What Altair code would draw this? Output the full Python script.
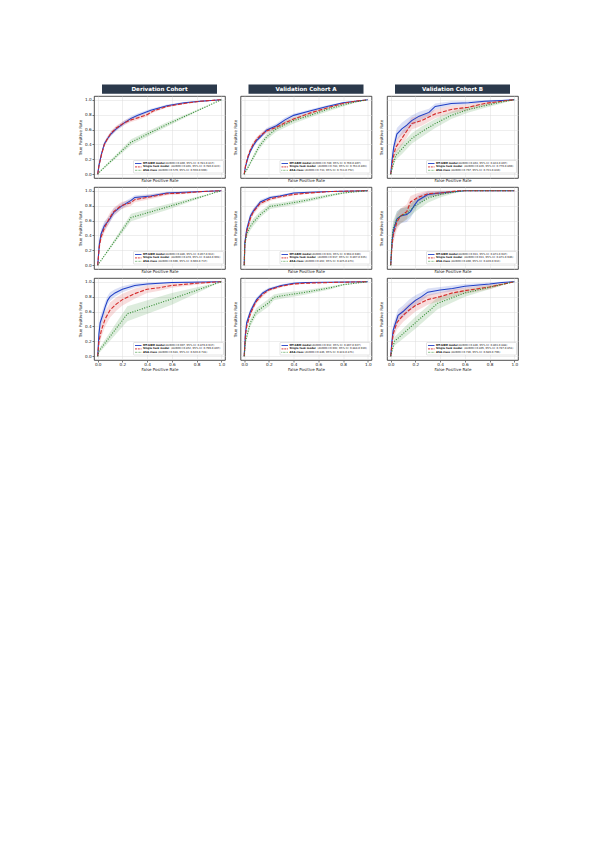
import altair as alt
import pandas as pd

COHORTS = ["Derivation Cohort", "Validation Cohort A", "Validation Cohort B"]
MODELS = ["MT-GBM model", "Single task model", "ASA class"]
TICKS = [0.0, 0.2, 0.4, 0.6, 0.8, 1.0]

# each point: (false positive rate, true positive rate, 95% CI half-width)
D1_MT = [(0, 0, 0), (0.01, 0.12, 0.02), (0.03, 0.27, 0.03), (0.054, 0.41, 0.03), (0.08, 0.48, 0.03),
         (0.107, 0.54, 0.03), (0.15, 0.61, 0.03), (0.215, 0.69, 0.03), (0.27, 0.75, 0.03),
         (0.32, 0.79, 0.025), (0.43, 0.86, 0.02), (0.56, 0.92, 0.015), (0.70, 0.96, 0.01),
         (0.83, 0.98, 0.01), (0.92, 0.99, 0.005), (1, 1, 0)]
D1_ST = [(0, 0, 0), (0.01, 0.11, 0.02), (0.03, 0.26, 0.03), (0.054, 0.40, 0.03), (0.08, 0.48, 0.03),
         (0.107, 0.55, 0.03), (0.15, 0.62, 0.03), (0.215, 0.69, 0.03), (0.27, 0.73, 0.03),
         (0.33, 0.76, 0.03), (0.40, 0.80, 0.025), (0.45, 0.85, 0.02), (0.56, 0.91, 0.015),
         (0.70, 0.95, 0.01), (0.83, 0.98, 0.01), (1, 1, 0)]
D1_ASA = [(0, 0, 0), (0.02, 0.04, 0.01), (0.27, 0.43, 0.04), (0.55, 0.66, 0.03), (1, 1, 0)]

A1_MT = [(0, 0, 0), (0.01, 0.10, 0.02), (0.03, 0.22, 0.03), (0.05, 0.31, 0.03), (0.075, 0.39, 0.03),
         (0.10, 0.45, 0.03), (0.13, 0.50, 0.03), (0.18, 0.59, 0.03), (0.26, 0.65, 0.03),
         (0.33, 0.73, 0.03), (0.40, 0.79, 0.025), (0.53, 0.85, 0.02), (0.67, 0.91, 0.015),
         (0.80, 0.96, 0.01), (0.90, 0.98, 0.005), (1, 1, 0)]
A1_ST = [(0, 0, 0), (0.01, 0.11, 0.02), (0.03, 0.24, 0.03), (0.05, 0.33, 0.03), (0.075, 0.41, 0.03),
         (0.10, 0.47, 0.03), (0.13, 0.52, 0.03), (0.18, 0.58, 0.03), (0.26, 0.63, 0.03),
         (0.33, 0.69, 0.03), (0.40, 0.74, 0.025), (0.53, 0.82, 0.02), (0.67, 0.89, 0.015),
         (0.80, 0.95, 0.01), (0.90, 0.98, 0.005), (1, 1, 0)]
A1_ASA = [(0, 0, 0), (0.03, 0.09, 0.02), (0.075, 0.23, 0.03), (0.12, 0.37, 0.04), (0.18, 0.50, 0.04),
          (0.26, 0.61, 0.04), (0.40, 0.72, 0.04), (0.55, 0.80, 0.03), (0.67, 0.87, 0.03),
          (0.80, 0.93, 0.02), (0.90, 0.97, 0.01), (1, 1, 0)]

B1_MT = [(0, 0, 0), (0.01, 0.18, 0.06), (0.024, 0.36, 0.08), (0.05, 0.54, 0.08), (0.09, 0.61, 0.08),
         (0.13, 0.66, 0.08), (0.17, 0.72, 0.07), (0.23, 0.78, 0.06), (0.31, 0.83, 0.05),
         (0.36, 0.91, 0.04), (0.49, 0.95, 0.03), (0.63, 0.96, 0.02), (0.76, 0.98, 0.015),
         (0.90, 0.99, 0.01), (1, 1, 0)]
B1_ST = [(0, 0, 0), (0.02, 0.22, 0.06), (0.04, 0.36, 0.08), (0.09, 0.48, 0.09), (0.13, 0.58, 0.09),
         (0.17, 0.68, 0.08), (0.25, 0.72, 0.07), (0.36, 0.81, 0.06), (0.49, 0.87, 0.05),
         (0.63, 0.90, 0.04), (0.76, 0.95, 0.03), (0.90, 0.98, 0.015), (1, 1, 0)]
B1_ASA = [(0, 0, 0), (0.04, 0.25, 0.06), (0.09, 0.34, 0.07), (0.17, 0.48, 0.07), (0.25, 0.57, 0.07),
          (0.36, 0.68, 0.06), (0.49, 0.79, 0.05), (0.63, 0.87, 0.04), (0.76, 0.92, 0.03),
          (0.90, 0.97, 0.02), (1, 1, 0)]

D2_MT = [(0, 0, 0), (0.013, 0.28, 0.06), (0.027, 0.42, 0.06), (0.054, 0.53, 0.06), (0.094, 0.61, 0.05),
         (0.13, 0.71, 0.05), (0.19, 0.79, 0.04), (0.27, 0.87, 0.035), (0.30, 0.91, 0.03),
         (0.43, 0.93, 0.025), (0.56, 0.97, 0.015), (0.70, 0.98, 0.01), (0.85, 0.99, 0.005), (1, 1, 0)]
D2_ST = [(0, 0, 0), (0.013, 0.25, 0.06), (0.027, 0.38, 0.06), (0.054, 0.50, 0.06), (0.094, 0.63, 0.06),
         (0.13, 0.72, 0.05), (0.19, 0.80, 0.05), (0.27, 0.84, 0.04), (0.30, 0.88, 0.035),
         (0.43, 0.92, 0.03), (0.56, 0.96, 0.02), (0.70, 0.97, 0.015), (0.85, 0.99, 0.01), (1, 1, 0)]
D2_ASA = [(0, 0, 0), (0.27, 0.64, 0.05), (0.56, 0.78, 0.04), (1, 1, 0)]

A2_MT = [(0, 0, 0), (0.005, 0.30, 0.05), (0.02, 0.48, 0.05), (0.05, 0.66, 0.04), (0.075, 0.73, 0.035),
         (0.13, 0.85, 0.03), (0.21, 0.91, 0.02), (0.29, 0.93, 0.02), (0.40, 0.97, 0.01),
         (0.53, 0.98, 0.01), (0.70, 0.99, 0.005), (1, 1, 0)]
A2_ST = [(0, 0, 0), (0.005, 0.28, 0.05), (0.02, 0.45, 0.05), (0.05, 0.63, 0.045), (0.075, 0.72, 0.04),
         (0.13, 0.83, 0.03), (0.21, 0.89, 0.025), (0.29, 0.92, 0.02), (0.40, 0.95, 0.015),
         (0.53, 0.97, 0.01), (0.70, 0.99, 0.005), (1, 1, 0)]
A2_ASA = [(0, 0, 0), (0.005, 0.28, 0.04), (0.02, 0.42, 0.05), (0.05, 0.52, 0.05), (0.075, 0.58, 0.05),
          (0.13, 0.68, 0.04), (0.21, 0.79, 0.035), (0.29, 0.81, 0.03), (0.40, 0.84, 0.03),
          (0.53, 0.88, 0.025), (0.67, 0.93, 0.02), (0.80, 0.97, 0.01), (1, 1, 0)]

B2_MT = [(0, 0, 0), (0.01, 0.30, 0.10), (0.02, 0.45, 0.10), (0.05, 0.62, 0.10), (0.08, 0.66, 0.10),
         (0.13, 0.68, 0.10), (0.16, 0.72, 0.09), (0.19, 0.80, 0.08), (0.22, 0.87, 0.07),
         (0.27, 0.92, 0.05), (0.30, 0.95, 0.04), (0.40, 0.97, 0.03), (0.53, 0.99, 0.01),
         (0.60, 1.0, 0), (1, 1, 0)]
B2_ST = [(0, 0, 0), (0.01, 0.25, 0.10), (0.02, 0.40, 0.10), (0.05, 0.58, 0.10), (0.08, 0.66, 0.10),
         (0.13, 0.72, 0.10), (0.16, 0.85, 0.08), (0.19, 0.88, 0.07), (0.22, 0.91, 0.06),
         (0.30, 0.96, 0.04), (0.40, 0.97, 0.03), (0.55, 1.0, 0), (1, 1, 0)]
B2_ASA = [(0, 0, 0), (0.01, 0.35, 0.10), (0.02, 0.50, 0.10), (0.05, 0.62, 0.10), (0.08, 0.66, 0.10),
          (0.13, 0.70, 0.09), (0.20, 0.80, 0.08), (0.30, 0.90, 0.06), (0.40, 0.95, 0.04),
          (0.50, 0.98, 0.02), (0.60, 1.0, 0), (1, 1, 0)]

D3_MT = [(0, 0, 0), (0.01, 0.30, 0.08), (0.02, 0.45, 0.08), (0.04, 0.55, 0.08), (0.06, 0.66, 0.07),
         (0.08, 0.75, 0.06), (0.10, 0.80, 0.06), (0.14, 0.85, 0.05), (0.20, 0.90, 0.04),
         (0.30, 0.95, 0.03), (0.40, 0.97, 0.02), (0.60, 0.99, 0.01), (1, 1, 0)]
D3_ST = [(0, 0, 0), (0.01, 0.20, 0.08), (0.03, 0.35, 0.09), (0.06, 0.50, 0.10), (0.10, 0.62, 0.10),
         (0.15, 0.70, 0.09), (0.20, 0.76, 0.08), (0.30, 0.84, 0.07), (0.40, 0.90, 0.05),
         (0.50, 0.92, 0.04), (0.60, 0.95, 0.03), (0.80, 0.98, 0.02), (1, 1, 0)]
D3_ASA = [(0, 0, 0), (0.01, 0.07, 0.03), (0.24, 0.57, 0.10), (0.60, 0.77, 0.08), (1, 1, 0)]

A3_MT = [(0, 0, 0), (0.01, 0.30, 0.04), (0.02, 0.45, 0.04), (0.05, 0.60, 0.04), (0.08, 0.70, 0.035),
         (0.10, 0.76, 0.03), (0.15, 0.85, 0.025), (0.20, 0.90, 0.02), (0.30, 0.95, 0.015),
         (0.40, 0.98, 0.01), (0.50, 0.99, 0.005), (1, 1, 0)]
A3_ST = [(0, 0, 0), (0.01, 0.28, 0.04), (0.02, 0.40, 0.04), (0.05, 0.57, 0.04), (0.08, 0.68, 0.035),
         (0.10, 0.74, 0.03), (0.15, 0.83, 0.03), (0.20, 0.89, 0.02), (0.30, 0.94, 0.015),
         (0.40, 0.97, 0.01), (0.50, 0.98, 0.01), (0.70, 0.99, 0.005), (1, 1, 0)]
A3_ASA = [(0, 0, 0), (0.01, 0.20, 0.04), (0.05, 0.45, 0.05), (0.10, 0.60, 0.05), (0.20, 0.72, 0.05),
          (0.24, 0.79, 0.04), (0.30, 0.81, 0.04), (0.50, 0.86, 0.03), (0.70, 0.92, 0.02),
          (0.80, 0.96, 0.01), (1, 1, 0)]

B3_MT = [(0, 0, 0), (0.01, 0.20, 0.06), (0.02, 0.35, 0.08), (0.04, 0.45, 0.08), (0.06, 0.55, 0.08),
         (0.10, 0.60, 0.08), (0.15, 0.68, 0.08), (0.20, 0.75, 0.07), (0.25, 0.80, 0.06),
         (0.30, 0.86, 0.05), (0.40, 0.89, 0.04), (0.50, 0.91, 0.04), (0.60, 0.94, 0.03),
         (0.80, 0.97, 0.02), (0.90, 0.99, 0.01), (1, 1, 0)]
B3_ST = [(0, 0, 0), (0.02, 0.30, 0.08), (0.05, 0.45, 0.09), (0.10, 0.55, 0.09), (0.15, 0.62, 0.09),
         (0.20, 0.68, 0.08), (0.30, 0.76, 0.07), (0.40, 0.80, 0.06), (0.50, 0.85, 0.05),
         (0.60, 0.88, 0.04), (0.80, 0.93, 0.03), (1, 1, 0)]
B3_ASA = [(0, 0, 0), (0.03, 0.20, 0.06), (0.20, 0.45, 0.08), (0.38, 0.71, 0.08), (0.60, 0.85, 0.05),
          (1, 1, 0)]

LEG_D1 = ["(AUROC=0.800, 95% CI: 0.783-0.817)", "(AUROC=0.801, 95% CI: 0.780-0.822)",
          "(AUROC=0.579, 95% CI: 0.559-0.600)"]
LEG_A1 = ["(AUROC=0.789, 95% CI: 0.769-0.807)", "(AUROC=0.783, 95% CI: 0.763-0.803)",
          "(AUROC=0.733, 95% CI: 0.713-0.752)"]
LEG_B1 = ["(AUROC=0.863, 95% CI: 0.824-0.897)", "(AUROC=0.826, 95% CI: 0.779-0.869)",
          "(AUROC=0.767, 95% CI: 0.723-0.810)"]
LEG_D2 = ["(AUROC=0.886, 95% CI: 0.857-0.912)", "(AUROC=0.874, 95% CI: 0.844-0.901)",
          "(AUROC=0.696, 95% CI: 0.669-0.737)"]
LEG_A2 = ["(AUROC=0.923, 95% CI: 0.904-0.940)", "(AUROC=0.917, 95% CI: 0.897-0.935)",
          "(AUROC=0.862, 95% CI: 0.825-0.873)"]
LEG_B2 = ["(AUROC=0.911, 95% CI: 0.873-0.947)", "(AUROC=0.911, 95% CI: 0.871-0.946)",
          "(AUROC=0.890, 95% CI: 0.839-0.932)"]
LEG_D3 = ["(AUROC=0.907, 95% CI: 0.879-0.937)", "(AUROC=0.852, 95% CI: 0.799-0.897)",
          "(AUROC=0.681, 95% CI: 0.620-0.741)"]
LEG_A3 = ["(AUROC=0.912, 95% CI: 0.897-0.927)", "(AUROC=0.902, 95% CI: 0.884-0.919)",
          "(AUROC=0.846, 95% CI: 0.824-0.871)"]
LEG_B3 = ["(AUROC=0.846, 95% CI: 0.803-0.888)", "(AUROC=0.805, 95% CI: 0.747-0.851)",
          "(AUROC=0.746, 95% CI: 0.689-0.796)"]

GRID = [
    [(D1_MT, D1_ST, D1_ASA, LEG_D1), (A1_MT, A1_ST, A1_ASA, LEG_A1), (B1_MT, B1_ST, B1_ASA, LEG_B1)],
    [(D2_MT, D2_ST, D2_ASA, LEG_D2), (A2_MT, A2_ST, A2_ASA, LEG_A2), (B2_MT, B2_ST, B2_ASA, LEG_B2)],
    [(D3_MT, D3_ST, D3_ASA, LEG_D3), (A3_MT, A3_ST, A3_ASA, LEG_A3), (B3_MT, B3_ST, B3_ASA, LEG_B3)],
]

# ---- styling ----
W, H = 131, 82
COLORS = ["#2140c6", "#d42a2a", "#2e8b2e"]
DASHES = [None, [4, 1.6], [1, 1.5]]
NAME_W = [22.0, 28.0, 15.0]      # width of bold model names in the legend (px)
FONT = "DejaVu Sans"
XS = alt.Scale(domain=[-0.03, 1.03], nice=False, zero=False)
YS = alt.Scale(domain=[-0.05, 1.05], nice=False, zero=False)
ONE = pd.DataFrame({"k": [0]})


def to_df(pts):
    return pd.DataFrame({
        "fpr": [p[0] for p in pts],
        "tpr": [p[1] for p in pts],
        "lo": [max(0.0, p[1] - p[2]) for p in pts],
        "hi": [min(1.0, p[1] + p[2]) for p in pts],
    })


def panel(r, c):
    mt, st, asa, leg = GRID[r][c]
    xa = alt.Axis(values=TICKS, format=".1f", title="False Positive Rate",
                  labels=(r == 2), ticks=(r == 2), titlePadding=0.8 if r == 2 else 0.8,
                  labelFlush=False)
    ya = alt.Axis(values=TICKS, format=".1f", title="True Positive Rate",
                  labels=(c == 0), ticks=(c == 0), titlePadding=2 if c == 0 else 3.5,
                  labelFlush=False)
    layers = []
    dfs = [to_df(mt), to_df(st), to_df(asa)]
    for df, col in zip(dfs, COLORS):
        layers.append(alt.Chart(df).mark_area(color=col, opacity=0.16).encode(
            x=alt.X("fpr:Q", scale=XS, axis=xa),
            y=alt.Y("lo:Q", scale=YS, axis=ya),
            y2="hi:Q"))
    for df, col, dash in zip(dfs, COLORS, DASHES):
        kw = {"color": col, "strokeWidth": 1.1}
        if dash:
            kw["strokeDash"] = dash
        layers.append(alt.Chart(df).mark_line(**kw).encode(
            x=alt.X("fpr:Q", scale=XS, axis=xa),
            y=alt.Y("tpr:Q", scale=YS, axis=ya)))
    # legend box
    layers.append(alt.Chart(ONE).mark_rect(fill="white", stroke="#bbbbbb", strokeWidth=0.4,
                                           cornerRadius=0.6).encode(
        x=alt.value(39.5), x2=alt.value(129.5), y=alt.value(64.5), y2=alt.value(77)))
    for i in range(3):
        yy = 67.5 + 3.4 * i
        rkw = {"color": COLORS[i], "strokeWidth": 0.9}
        if DASHES[i]:
            rkw["strokeDash"] = [2, 0.8] if i == 1 else [0.6, 0.8]
        layers.append(alt.Chart(ONE).mark_rule(**rkw).encode(
            x=alt.value(41), x2=alt.value(47.5), y=alt.value(yy)))
        layers.append(alt.Chart(ONE).mark_text(
            text=MODELS[i], align="left", baseline="middle", font=FONT, fontSize=2.6,
            fontWeight="bold", color="#111111").encode(x=alt.value(49), y=alt.value(yy)))
        layers.append(alt.Chart(ONE).mark_text(
            text=leg[i], align="left", baseline="middle", font=FONT, fontSize=2.6,
            color="#111111").encode(x=alt.value(49 + NAME_W[i]), y=alt.value(yy)))
    if r == 0:
        layers.append(alt.Chart(ONE).mark_rect(fill="#2b394b").encode(
            x=alt.value(8), x2=alt.value(123), y=alt.value(-11.6), y2=alt.value(-2.3)))
        layers.append(alt.Chart(ONE).mark_text(
            text=COHORTS[c], align="center", baseline="middle", font=FONT, fontSize=5.6,
            fontWeight="bold", color="white").encode(x=alt.value(W / 2), y=alt.value(-6.8)))
    return alt.layer(*layers).properties(width=W, height=H)


panels = [panel(r, c) for r in range(3) for c in range(3)]

chart = alt.concat(*panels, columns=3, spacing={"row": 9, "column": 15.5}, bounds="flush").properties(
    padding={"left": 70, "top": 76, "right": 5, "bottom": 5}
).configure_view(
    stroke="#222222", strokeWidth=0.8
).configure_axis(
    grid=True, gridColor="#dddddd", gridWidth=0.5, domain=False,
    labelFont=FONT, labelFontSize=4.2, labelColor="#222222", labelPadding=0.8,
    titleFont=FONT, titleFontSize=4, titleFontWeight="normal", titleColor="#222222",
    tickSize=2, tickWidth=0.6, tickColor="#222222"
)

chart.save("out.html", embed_options={"renderer": "svg", "actions": False})
